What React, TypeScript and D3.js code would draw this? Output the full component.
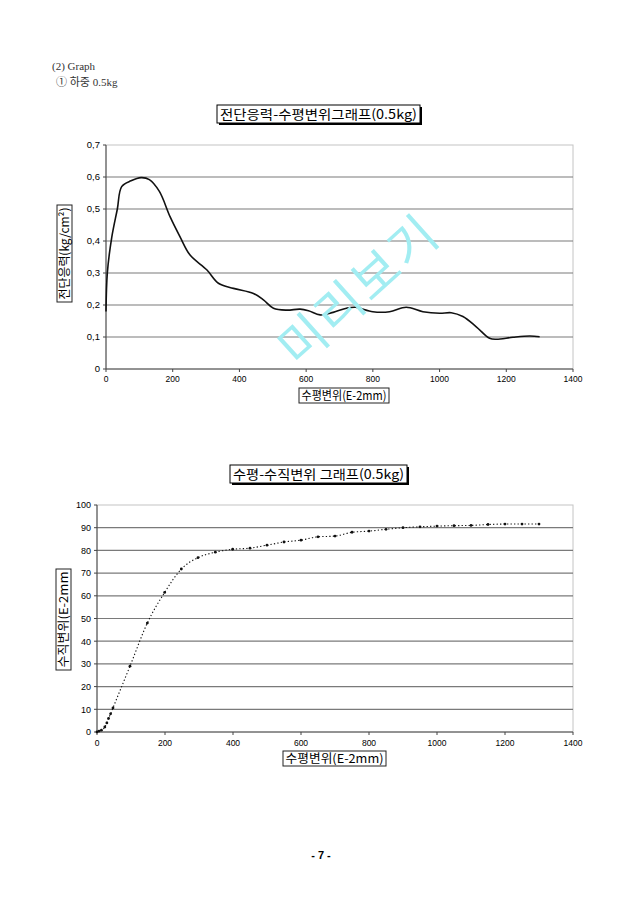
import React from 'react';
import * as d3 from 'd3';

// Chart 1: shear stress vs horizontal displacement
const shearX = [0, 4, 17, 34, 47, 75, 105, 130, 160, 192, 222, 252, 302, 337, 382, 442, 472, 502, 542, 582, 607, 642, 681, 721, 748, 800, 850, 900, 950, 1000, 1035, 1070, 1110, 1150, 1170, 1220, 1270, 1300];
const shearY = [0.18, 0.30, 0.41, 0.50, 0.57, 0.588, 0.598, 0.592, 0.555, 0.476, 0.413, 0.356, 0.31, 0.268, 0.252, 0.236, 0.216, 0.19, 0.184, 0.187, 0.182, 0.169, 0.177, 0.19, 0.193, 0.179, 0.179, 0.193, 0.179, 0.174, 0.176, 0.164, 0.132, 0.096, 0.093, 0.099, 0.103, 0.101];
const shearYTicks = ['0', '0,1', '0,2', '0,3', '0,4', '0,5', '0,6', '0,7'];

// Chart 2: horizontal vs vertical displacement
const vertX = [0, 6, 13, 23, 29, 34, 40, 47, 97, 148, 199, 248, 297, 348, 399, 450, 500, 550, 600, 650, 700, 750, 800, 850, 900, 950, 1000, 1050, 1100, 1150, 1200, 1250, 1300];
const vertY = [0, 0.4, 0.8, 2.2, 4, 6, 8, 10.6, 29, 48, 61.5, 71.8, 76.8, 79.2, 80.5, 81, 82.3, 83.7, 84.5, 86, 86.3, 88, 88.5, 89.3, 90, 90.4, 90.7, 90.9, 91, 91.4, 91.6, 91.6, 91.6];
const vertYTicks = [0, 10, 20, 30, 40, 50, 60, 70, 80, 90, 100];

const xTicks = [0, 200, 400, 600, 800, 1000, 1200, 1400];

const headerLines = ['(2) Graph', '① 하중 0.5kg'];
const title1 = '전단응력-수평변위그래프(0.5kg)';
const title2 = '수평-수직변위 그래프(0.5kg)';
const xLabel = '수평변위(E-2mm)';
const yLabel1 = '전단응력(kg/cm²)';
const yLabel2 = '수직변위(E-2mm';
const watermark = '미리보기';
const pageNum = '- 7 -';

const KR = "'Noto Sans CJK KR', 'Noto Sans', sans-serif";
const NUM = "'Liberation Sans', Arial, sans-serif";

function TitleBox({ x, y, w, h, text, fs }: any) {
  return (
    <g>
      <rect x={x + 2} y={y + 2} width={w} height={h} fill="#000" />
      <rect x={x} y={y} width={w} height={h} fill="#fff" stroke="#000" strokeWidth={1} />
      <text x={x + w / 2} y={y + h / 2 + fs * 0.36} textAnchor="middle" fontFamily={KR} fontSize={fs}
        textLength={w - 6} lengthAdjust="spacingAndGlyphs">{text}</text>
    </g>
  );
}

function LabelBox({ x, y, w, h, text, fs, rotate }: any) {
  const cx = x + w / 2, cy = y + h / 2;
  return (
    <g>
      <rect x={x} y={y} width={w} height={h} fill="#fff" stroke="#222" strokeWidth={1} />
      <text x={cx} y={cy + fs * 0.36} textAnchor="middle" fontFamily={KR} fontSize={fs}
        transform={rotate ? `rotate(-90 ${cx} ${cy})` : undefined}
        textLength={(rotate ? h : w) - 5} lengthAdjust="spacingAndGlyphs">{text}</text>
    </g>
  );
}

export default function App() {
  const W = 640, H = 905;

  const x1 = d3.scaleLinear().domain([0, 1400]).range([106, 573]);
  const y1 = d3.scaleLinear().domain([0, 0.7]).range([369, 145]);
  const x2 = d3.scaleLinear().domain([0, 1400]).range([97, 573]);
  const y2 = d3.scaleLinear().domain([0, 100]).range([732, 505]);

  const shearData = shearX.map((v, i) => [v, shearY[i]] as [number, number]);
  const vertData = vertX.map((v, i) => [v, vertY[i]] as [number, number]);

  const line1 = d3.line<[number, number]>().x(d => x1(d[0])).y(d => y1(d[1])).curve(d3.curveCatmullRom.alpha(0.5));
  const line2 = d3.line<[number, number]>().x(d => x2(d[0])).y(d => y2(d[1])).curve(d3.curveMonotoneX);

  const y1Vals = d3.range(0, 8).map(i => i / 10);

  return (
    <div style={{ position: 'absolute', left: 0, top: 0, width: W, height: H, background: '#fff' }}>
      <svg width={W} height={H} style={{ display: 'block' }}>
        <rect width={W} height={H} fill="#fff" />
        {/* header */}
        <text x={52} y={70} fontFamily="'Liberation Serif', serif" fontSize={11} fill="#333">{headerLines[0]}</text>
        <text x={56} y={86} fontFamily="'Liberation Serif', 'Noto Sans CJK KR', serif" fontSize={11} fill="#333">{headerLines[1]}</text>

        {/* ===== Chart 1 ===== */}
        <TitleBox x={217} y={105} w={203} h={18} text={title1} fs={13} />
        <rect x={x1(0)} y={y1(0.7)} width={x1(1400) - x1(0)} height={y1(0) - y1(0.7)} fill="none" stroke="#c4c4c4" strokeWidth={1} />
        {y1Vals.slice(1, 7).map((v, i) => (
          <line key={i} x1={x1(0)} x2={x1(1400)} y1={y1(v)} y2={y1(v)} stroke="#7a7a7a" strokeWidth={1.2} />
        ))}
        <line x1={x1(0)} x2={x1(0)} y1={y1(0.7)} y2={y1(0)} stroke="#444" strokeWidth={1} />
        <line x1={x1(0)} x2={x1(1400)} y1={y1(0)} y2={y1(0)} stroke="#444" strokeWidth={1} />
        {y1Vals.map((v, i) => (
          <g key={i}>
            <line x1={x1(0) - 3} x2={x1(0)} y1={y1(v)} y2={y1(v)} stroke="#444" />
            <text x={x1(0) - 6} y={y1(v) + 3.3} textAnchor="end" fontFamily={NUM} fontSize={9.5}>{shearYTicks[i]}</text>
          </g>
        ))}
        {xTicks.map((v, i) => (
          <g key={i}>
            <line x1={x1(v)} x2={x1(v)} y1={y1(0)} y2={y1(0) + 3} stroke="#444" />
            <text x={x1(v)} y={y1(0) + 13} textAnchor="middle" fontFamily={NUM} fontSize={8.5}>{v}</text>
          </g>
        ))}
        <path d={line1(shearData) || ''} fill="none" stroke="#111" strokeWidth={1.6} />
        <LabelBox x={299} y={388} w={90} h={15} text={xLabel} fs={12} />
        <LabelBox x={57} y={205} w={15} h={97} text={yLabel1} fs={12} rotate />

        {/* ===== Chart 2 ===== */}
        <TitleBox x={230} y={465} w={177} h={18} text={title2} fs={13} />
        <rect x={x2(0)} y={y2(100)} width={x2(1400) - x2(0)} height={y2(0) - y2(100)} fill="none" stroke="#c4c4c4" strokeWidth={1} />
        {vertYTicks.slice(1, 10).map((v, i) => (
          <line key={i} x1={x2(0)} x2={x2(1400)} y1={y2(v)} y2={y2(v)} stroke="#7a7a7a" strokeWidth={1.2} />
        ))}
        <line x1={x2(0)} x2={x2(0)} y1={y2(100)} y2={y2(0)} stroke="#444" strokeWidth={1} />
        <line x1={x2(0)} x2={x2(1400)} y1={y2(0)} y2={y2(0)} stroke="#444" strokeWidth={1} />
        {vertYTicks.map((v, i) => (
          <g key={i}>
            <line x1={x2(0) - 3} x2={x2(0)} y1={y2(v)} y2={y2(v)} stroke="#444" />
            <text x={x2(0) - 6} y={y2(v) + 3.3} textAnchor="end" fontFamily={NUM} fontSize={9}>{v}</text>
          </g>
        ))}
        {xTicks.map((v, i) => (
          <g key={i}>
            <line x1={x2(v)} x2={x2(v)} y1={y2(0)} y2={y2(0) + 3} stroke="#444" />
            <text x={x2(v)} y={y2(0) + 14} textAnchor="middle" fontFamily={NUM} fontSize={8.5}>{v}</text>
          </g>
        ))}
        <path d={line2(vertData) || ''} fill="none" stroke="#111" strokeWidth={1.1} strokeDasharray="1.3,2.2" />
        {vertData.map((d, i) => (
          <circle key={i} cx={x2(d[0])} cy={y2(d[1])} r={1.4} fill="#111" />
        ))}
        <LabelBox x={283} y={751} w={103} h={15} text={xLabel} fs={12} />
        <LabelBox x={56} y={569} w={15} h={101} text={yLabel2} fs={12} rotate />

        {/* watermark */}
        <text x={356} y={287} textAnchor="middle" dominantBaseline="central" fontFamily={KR} fontSize={50}
          letterSpacing={3} fill="#a2edf2" transform="rotate(-42 356 287)">{watermark}</text>

        {/* page number */}
        <text x={321} y={859} textAnchor="middle" fontFamily={NUM} fontWeight="bold" fontSize={11}>{pageNum}</text>
      </svg>
    </div>
  );
}
